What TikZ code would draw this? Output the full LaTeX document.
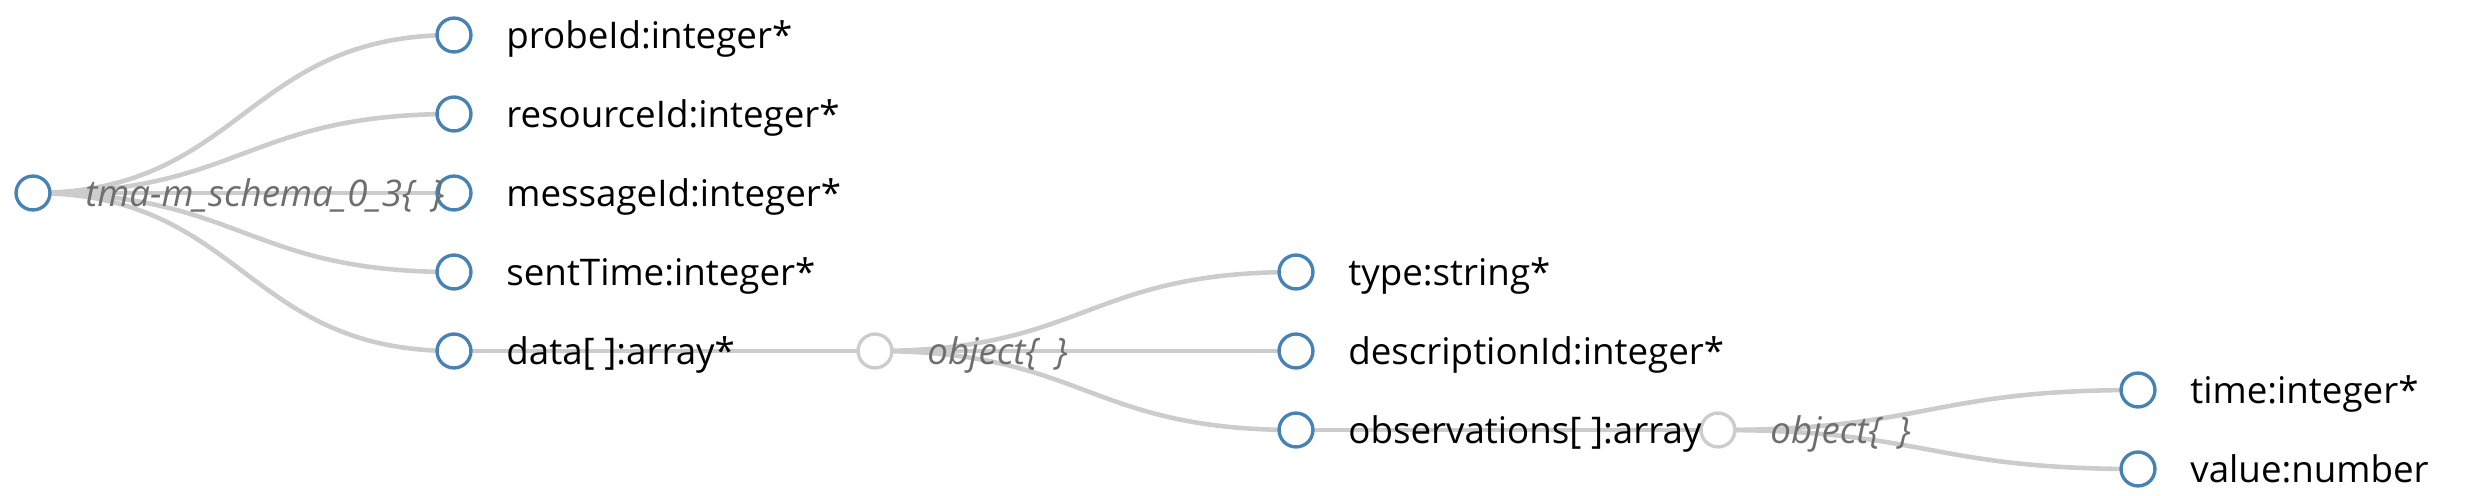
\documentclass[tikz,border=0pt]{standalone}
\usepackage{fontspec}
\setmainfont{Open Sans}
\usetikzlibrary{positioning,backgrounds}
\definecolor{nodeblue}{HTML}{4682B4}
\definecolor{linkgray}{HTML}{CCCCCC}
\definecolor{typegray}{HTML}{6E6E6E}
\newcommand\emptybraces{\{\hspace{0.45em}\}}
\tikzset{
  field/.style={circle, draw=nodeblue, fill=white, line width=1.9pt, minimum size=19.3pt, inner sep=0pt},
  objnode/.style={field, draw=linkgray},
  fieldtext/.style={inner sep=0pt, text height=20pt, text depth=4.6pt, font=\fontsize{20.9}{25}\selectfont, right=19pt of #1},
  objtext/.style={fieldtext=#1, text=typegray, font=\fontsize{20.9}{25}\selectfont\itshape},
  link/.style={draw=linkgray, line width=2.6pt}
}
\begin{document}
\begin{tikzpicture}[x=0.02cm, y=-0.02cm]
            \useasboundingbox (0,0) rectangle (2472,496);
            \node[field]   (root)     at (33,193)   {};
            \node[field]   (probe)    at (454,35)   {};
            \node[field]   (resource) at (454,114)  {};
            \node[field]   (message)  at (454,193)  {};
            \node[field]   (sent)     at (454,272)  {};
            \node[field]   (data)     at (454,351)  {};
            \node[objnode] (obja)     at (875,351)  {};
            \node[field]   (type)     at (1296,272) {};
            \node[field]   (descr)    at (1296,351) {};
            \node[field]   (obs)      at (1296,430) {};
            \node[objnode] (objb)     at (1718,430) {};
            \node[field]   (time)     at (2138,390) {};
            \node[field]   (value)    at (2138,469) {};
            \node[objtext=root]    (roottext)     {tma-m\_schema\_0\_3\emptybraces};
            \node[fieldtext=probe]    (probetext)    {probeId:integer*};
            \node[fieldtext=resource] (resourcetext) {resourceId:integer*};
            \node[fieldtext=message]  (messagetext)  {messageId:integer*};
            \node[fieldtext=sent]     (senttext)     {sentTime:integer*};
            \node[fieldtext=data]     (datatext)     {data[ ]:array*};
            \node[objtext=obja]       (objatext)     {object\emptybraces};
            \node[fieldtext=type]     (typetext)     {type:string*};
            \node[fieldtext=descr]    (descrtext)    {descriptionId:integer*};
            \node[fieldtext=obs]      (obstext)      {observations[ ]:array};
            \node[objtext=objb]       (objbtext)     {object\emptybraces};
            \node[fieldtext=time]     (timetext)     {time:integer*};
            \node[fieldtext=value]    (valuetext)    {value:number};
            \begin{scope}[on background layer]
            \foreach \from/\to in {root/probe, root/resource, root/message, root/sent, root/data,
                                   data/obja, obja/type, obja/descr, obja/obs,
                                   obs/objb, objb/time, objb/value}
              \draw[link] (\from.center) .. controls +(210,0) and +(-210,0) .. (\to.center);
            \end{scope}
        \end{tikzpicture}
\end{document}
